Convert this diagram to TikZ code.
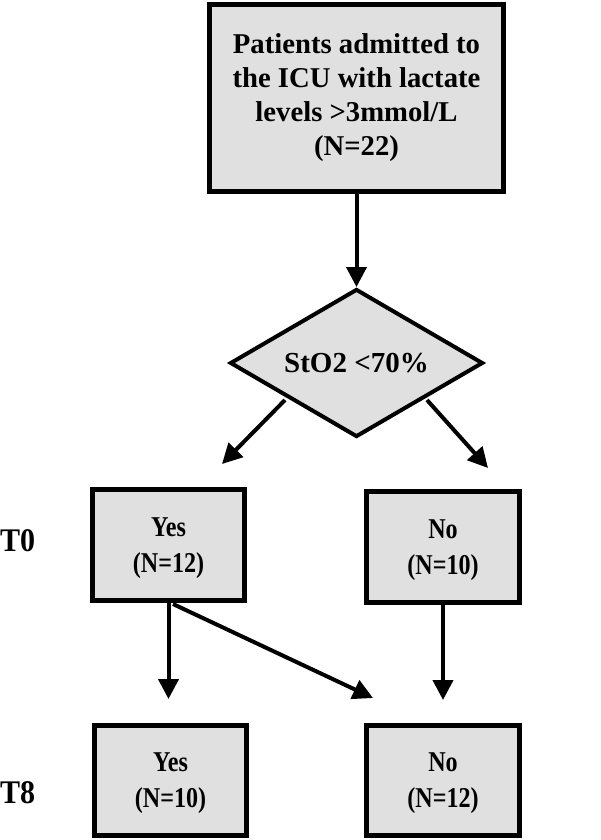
\documentclass[tikz,border=0pt]{standalone}
\usepackage{fontspec}
\setmainfont{Liberation Serif}
\newfontfamily\condfont[FakeStretch=0.84]{Liberation Serif}
\newfontfamily\lblfont[FakeStretch=0.91]{Liberation Serif}
\usetikzlibrary{shapes.geometric,arrows.meta}
\definecolor{boxgray}{HTML}{E0E0E0}
\tikzset{
  x=1pt,y=-1pt,
  bx/.style={draw=black,fill=boxgray,line width=5pt,inner sep=0pt,align=center,text depth=0pt,font=\condfont\bfseries\fontsize{28.7}{36}\selectfont},
  topbx/.style={draw=black,fill=boxgray,line width=5pt,inner sep=0pt,align=center,font=\bfseries\fontsize{28.7}{34}\selectfont},
  dmd/.style={diamond,draw=black,fill=boxgray,line width=4pt,inner sep=0pt,aspect=1.71,font=\bfseries\fontsize{29}{32}\selectfont},
  arr/.style={line width=4pt,-{Triangle[length=20pt,width=20pt]}},
  lbl/.style={font=\lblfont\bfseries\fontsize{33}{36}\selectfont,anchor=west,inner sep=0pt}
}
\begin{document}
\begin{tikzpicture}
\useasboundingbox (0,0) rectangle (600,840);
\node[topbx,minimum width=294pt,minimum height=187pt] (top) at (356.5,98) {Patients admitted to\\the ICU with lactate\\levels >3mmol/L\\(N=22)};
\node[dmd,minimum width=253pt,minimum height=148pt] (d) at (356.5,363) {StO2 <70\%};
\node[bx,minimum width=152pt,minimum height=111pt] (y0) at (168.5,545) {Yes\\(N=12)};
\node[bx,minimum width=153pt,minimum height=111pt] (n0) at (443,547) {No\\(N=10)};
\node[bx,minimum width=152pt,minimum height=110pt] (y8) at (170.5,780.5) {Yes\\(N=10)};
\node[bx,minimum width=153pt,minimum height=110pt] (n8) at (443,780.5) {No\\(N=12)};
\node[lbl] (t0) at (0,541) {T0};
\node[lbl] (t8) at (0,793) {T8};
\coordinate (dl) at (222,464);
\coordinate (dr) at (488,468);
\coordinate (yy) at (168.5,699);
\coordinate (yn) at (373,698);
\coordinate (nn) at (443,700);
\draw[arr] (top.south) -- (d.north);
\draw[arr] (285,400) -- (dl);
\draw[arr] (427,400) -- (dr);
\draw[arr] (y0.south) -- (yy);
\draw[arr] (173,604) -- (yn);
\draw[arr] (n0.south) -- (nn);
\end{tikzpicture}
\end{document}
